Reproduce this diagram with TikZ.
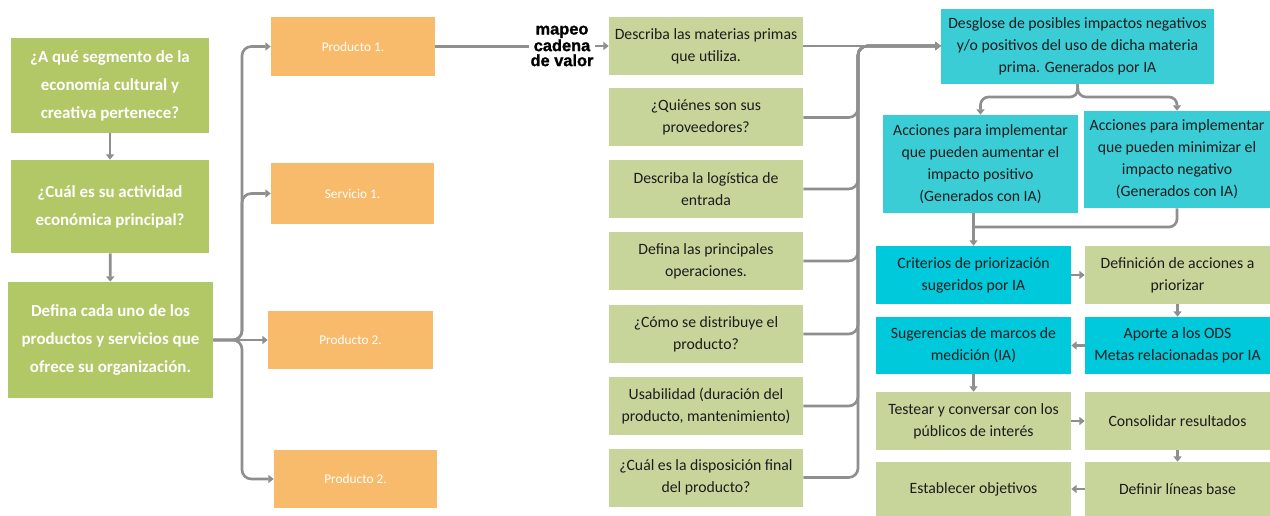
\documentclass[tikz,border=0pt]{standalone}
\usepackage{fontspec}
\setmainfont{Carlito}
\newfontfamily\mapfont[BoldFont={Liberation Sans Bold}, BoldFeatures={FakeBold=1.2}]{Liberation Sans}
\usepackage{tikz}
\usetikzlibrary{arrows.meta,calc}
\definecolor{leftgreen}{HTML}{B2C766}
\definecolor{midgreen}{HTML}{C7D59B}
\definecolor{prodorange}{HTML}{F8BA6B}
\definecolor{iacyan}{HTML}{3BCDD6}
\definecolor{iacyandark}{HTML}{00C9DC}
\definecolor{conngray}{HTML}{8F8F8F}
\definecolor{boxtext}{HTML}{1C1C1C}
\tikzset{
  boxsize/.style 2 args={minimum width=#1*0.75pt, minimum height=#2*0.75pt},
  base/.style={inner sep=0pt, align=center, font=\fontsize{11.8}{16.5}\selectfont, text=boxtext},
  question/.style={base, fill=leftgreen, text=white, font=\fontsize{12.7}{21}\selectfont\bfseries},
  offer/.style={base, fill=prodorange, text=white, font=\fontsize{10}{14}\selectfont},
  chain/.style={base, fill=midgreen, boxsize={194}{58}},
  aibox/.style={base, fill=iacyan},
  aidark/.style={base, fill=iacyandark},
  stepgreen/.style={base, fill=midgreen},
  conn/.style={draw=conngray, line width=2pt, -{Triangle[length=4pt,width=6pt]}},
  link/.style={draw=conngray, line width=2pt},
}
\begin{document}
\begin{tikzpicture}[x=0.75pt, y=-0.75pt]
  \useasboundingbox (0,0) rectangle (1270,516);

  % questions on the left
  \node[question, boxsize={198}{95}] (q1) at (110,85.5) {¿A qué segmento de la\\economía cultural y\\creativa pertenece?};
  \node[question, boxsize={198}{93}] (q2) at (110,206.5) {¿Cuál es su actividad\\económica principal?};
  \node[question, boxsize={205}{116}] (q3) at (110.5,340) {Defina cada uno de los\\productos y servicios que\\ofrece su organización.};

  % products and services
  \node[offer, boxsize={164}{59}] (p1) at (353,46.5) {Producto 1.};
  \node[offer, boxsize={163}{61}] (s1) at (352.5,193.5) {Servicio 1.};
  \node[offer, boxsize={165}{58}] (p2) at (350.5,340) {Producto 2.};
  \node[offer, boxsize={163}{58}] (p3) at (355.5,479) {Producto 2.};

  \node[align=center, inner sep=1pt, font=\mapfont\fontsize{12.3}{11.25}\selectfont\bfseries] (map) at (562,46) {mapeo\\cadena\\de valor};

  % value chain
  \node[chain] (m1) at (706,46) {Describa las materias primas\\que utiliza.};
  \node[chain] (m2) at (706,117.5) {¿Quiénes son sus\\proveedores?};
  \node[chain] (m3) at (706,189) {Describa la logística de\\entrada};
  \node[chain] (m4) at (706,261) {Defina las principales\\operaciones.};
  \node[chain] (m5) at (706,334) {¿Cómo se distribuye el\\producto?};
  \node[chain] (m6) at (706,406) {Usabilidad (duración del\\producto, mantenimiento)};
  \node[chain] (m7) at (706,477.5) {¿Cuál es la disposición final\\del producto?};

  % impacts
  \node[aibox, boxsize={273}{75}] (d1) at (1077.5,46.5) {Desglose de posibles impactos negativos\\y/o positivos del uso de dicha materia\\prima. Generados por IA};
  \node[aibox, boxsize={195}{98}] (a1) at (980.5,164) {Acciones para implementar\\que pueden aumentar el\\impacto positivo\\(Generados con IA)};
  \node[aibox, boxsize={186}{97}] (a2) at (1177,159.5) {Acciones para implementar\\que pueden minimizar el\\impacto negativo\\(Generados con IA)};

  \node[aidark, boxsize={195}{58}] (c1) at (973.5,275) {Criterios de priorización\\sugeridos por IA};
  \node[stepgreen, boxsize={185}{58}] (c2) at (1177.5,275) {Definición de acciones a\\priorizar};
  \node[aidark, boxsize={195}{57}] (c3) at (973.5,345.5) {Sugerencias de marcos de\\medición (IA)};
  \node[aidark, boxsize={185}{57}] (c4) at (1177.5,345.5) {Aporte a los ODS\\Metas relacionadas por IA};
  \node[stepgreen, boxsize={195}{58}] (c5) at (973.5,421) {Testear y conversar con los\\públicos de interés};
  \node[stepgreen, boxsize={185}{58}] (c6) at (1177.5,421) {Consolidar resultados};
  \node[stepgreen, boxsize={195}{54}] (c7) at (973.5,489) {Establecer objetivos};
  \node[stepgreen, boxsize={185}{54}] (c8) at (1177.5,489) {Definir líneas base};

  \coordinate (tr) at (242,340);
  \coordinate (jn) at (858,46);
  \coordinate (sp) at (1078,97);
  \coordinate (mg) at (973.5,227);

  \draw[conn] (q1) -- (q2);
  \draw[conn] (q2) -- (q3);

  \draw[conn, rounded corners=7pt] (q3.east) -- (tr) |- (p1.west);
  \draw[conn, rounded corners=7pt] (q3.east) -- (tr) |- (s1.west);
  \draw[conn] (q3.east) -- (p2.west);
  \draw[conn, rounded corners=7pt] (q3.east) -- (tr) |- (p3.west);

  \draw[link] (p1.east) -- (map.west |- p1.east);
  \draw[conn] (map.east |- m1.west) -- (m1.west);

  \draw[conn] (m1.east) -- (d1.west |- m1.east);
  \foreach \m in {m2,m3,m4,m5,m6,m7}
    \draw[conn, rounded corners=7pt] (\m.east) -| (jn) -- (d1.west |- m1.east);

  \draw[conn, rounded corners=6pt] (d1.south) -- (sp) -| (a1.north);
  \draw[conn, rounded corners=6pt] (d1.south) -- (sp) -| (a2.north);
  \draw[conn] (c1.north |- a1.south) -- (c1.north);
  \draw[link, rounded corners=6pt] (a2.south) |- (mg);

  \draw[conn] (c1) -- (c2);
  \draw[conn] (c2) -- (c4);
  \draw[conn] (c4) -- (c3);
  \draw[conn] (c3) -- (c5);
  \draw[conn] (c5) -- (c6);
  \draw[conn] (c6) -- (c8);
  \draw[conn] (c8) -- (c7);
\end{tikzpicture}
\end{document}
